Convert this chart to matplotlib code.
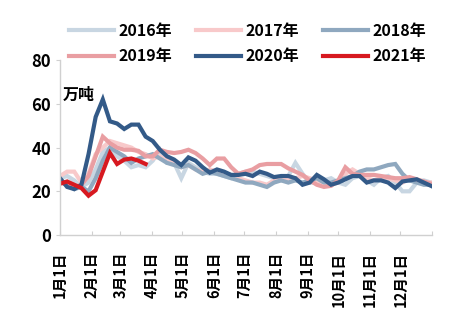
import numpy as np
import matplotlib
matplotlib.use("Agg")
import matplotlib.pyplot as plt

plt.rcParams['font.family'] = ['Noto Sans CJK SC', 'DejaVu Sans']
plt.rcParams['font.weight'] = 'bold'

# weekly readings, week 0 = Jan 1
weeks = np.arange(53) * 7

s2016 = [26, 27, 25, 22, 24, 30, 38, 40, 36, 34, 31, 32, 31, 34, 39, 33, 33, 26, 33, 31,
         29, 28, 28, 27, 26, 28, 29, 29, 28, 27, 26, 25, 27, 33, 28, 24, 24, 25, 26, 24,
         23, 26, 27, 25, 23, 26, 27, 24, 20, 20, 24, 25, 24]
s2017 = [27, 29, 29, 24, 28, 37, 40, 43, 42, 41, 40, 38, 37, 35, 36, 34, 33, 31, 32, 30,
         29, 30, 29, 28, 27, 26, 25, 24, 24, 23, 25, 26, 25, 26, 27, 26, 25, 24, 23, 24,
         28, 30, 28, 26, 25, 26, 26, 25, 24, 26, 25, 24, 24]
s2018 = [25, 23, 21, 22, 20, 26, 34, 40, 38, 36, 33, 35, 36, 37, 35, 33, 32, 31, 32, 30,
         28, 29, 28, 27, 26, 25, 24, 24, 23, 22, 24, 25, 24, 25, 24, 25, 26, 24, 24, 25,
         26, 27, 29, 30, 30, 31, 32, 32.5, 28, 25, 24, 23, 23]
s2019 = [24, 23, 22, 23, 27, 36, 45, 42, 40, 39, 39, 38.5, 36, 36, 39, 38, 37.5, 38, 39, 37.5,
         35, 32, 35, 35, 31, 28, 29, 30, 32, 32.5, 32.5, 32.5, 30.5, 29, 27.5, 25, 23, 22, 22.5, 25,
         31, 28, 27.5, 27.5, 27.5, 27, 26.5, 26, 26, 26.5, 25.5, 24.5, 23.5]
s2020 = [26, 22, 21, 23, 37, 54, 62, 52, 51, 48.5, 50.5, 50.5, 45, 43, 39, 36, 34.5, 32, 35.5, 34,
         31, 28.5, 30, 29, 27.5, 27.5, 28, 27, 29, 28, 26.5, 27, 27, 26, 23, 24, 27.5, 25.5, 23, 24,
         25.5, 27, 27, 24, 25, 25, 24, 21.5, 24.5, 25, 25.5, 24, 22.5]
s2021 = [23.5, 24.5, 23, 21.5, 18, 20.5, 29, 37.5, 32.5, 34.5, 35, 34, 32.5]

series = [("2016年", s2016, "#c8d6e2"),
          ("2017年", s2017, "#f8c9ca"),
          ("2018年", s2018, "#8fa8bf"),
          ("2019年", s2019, "#e99ea2"),
          ("2020年", s2020, "#335a88"),
          ("2021年", s2021, "#d71920")]

month_days = [0, 31, 59, 90, 120, 151, 181, 212, 243, 273, 304, 334]
month_labels = [f"{m}月1日" for m in range(1, 13)]

fig = plt.figure(figsize=(4.63, 3.32), dpi=100)
ax = fig.add_axes([0.1296, 0.292, 0.8034, 0.527])

handles = {}
for name, vals, col in series:
    handles[name], = ax.plot(weeks[:len(vals)], vals, color=col, lw=3.0, label=name,
                             solid_joinstyle='miter')

ax.set_xlim(0, 365)
ax.set_ylim(0, 80)
ax.set_yticks([0, 20, 40, 60, 80])
ax.set_xticks(month_days + [365])
ax.set_xticklabels(month_labels + [""], rotation=90, fontsize=10.5, fontweight='bold')
ax.tick_params(axis='x', direction='in', length=3, color='#d0d0d0', pad=12)
ax.tick_params(axis='y', direction='out', length=3, color='#d0d0d0', labelsize=12)
for lab in ax.get_yticklabels():
    lab.set_fontweight('bold')

for side in ('top', 'right'):
    ax.spines[side].set_visible(False)
for side in ('left', 'bottom'):
    ax.spines[side].set_color('#d0d0d0')
    ax.spines[side].set_linewidth(1)

ax.text(3, 64, "万吨", fontsize=11.5, fontweight='bold', va='center', ha='left')

# legend is filled column by column, so order entries to read row by row
order = ["2016年", "2019年", "2017年", "2020年", "2018年", "2021年"]
fig.legend([handles[k] for k in order], order, loc='upper center',
           bbox_to_anchor=(0.535, 0.975), ncol=3, frameon=False,
           handlelength=2.8, handletextpad=0.3, columnspacing=1.5,
           labelspacing=0.6, prop={'weight': 'bold', 'size': 11.5})

fig.savefig("out.png", dpi=100)
